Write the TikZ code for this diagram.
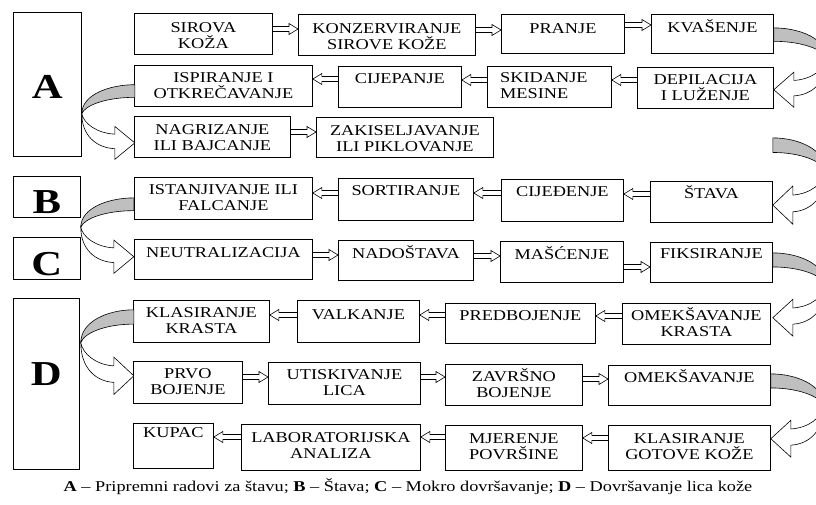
\documentclass[tikz,border=0pt]{standalone}
\usepackage{fontspec}
\setmainfont{Liberation Serif}[FakeStretch=1.22]
\usetikzlibrary{calc}
\tikzset{
  bx/.style={draw, line width=0.8pt, inner sep=0pt, anchor=north west},
  bxt/.style={anchor=north, inner sep=0pt, align=center, font=\fontsize{15}{16}\selectfont},
  ltr/.style={anchor=base, inner sep=0pt, font=\fontsize{35}{35}\selectfont\bfseries},
  harr/.style={line width=0.6pt, draw=black, line join=miter},
  turnline/.style={line width=0.6pt, draw=black},
  turn/.pic={
    \filldraw[turnline, fill=gray!50] (53,-30) .. controls (28,-30) and (0,-20) .. (0,0)
      .. controls (3,-9) and (25,-17) .. (53,-17) -- cycle;
    \filldraw[turnline, fill=white] (0,0) .. controls (2,10) and (15,20) .. (33,21)
      -- (33,13) -- (53,30) -- (33,47) -- (33,36)
      .. controls (14,35) and (0,22) .. (0,0) -- cycle;
  }
}
\newcommand\bx[7][18]{%
  \node[bx, minimum width={(#5-#3)*1pt}, minimum height={(#6-#4)*1pt}] (#2) at (#3,#4) {};
  \node[bxt] (#2-t) at ([yshift={(14-#1)*1pt}]#2.north) {\rule{0pt}{14pt}#7};
}
% hollow block arrows from box #1 to box #2, #3 px below the top of box #1
\newcommand\rarr[3]{\draw[harr] let \p1=([yshift=-#3pt]#1.north east),
  \p2=([yshift=-#3pt]#1.north east -| #2.west) in
  (\x1,\y1+2.5pt) -- (\x2-9pt,\y1+2.5pt) -- (\x2-9pt,\y1+5.5pt) -- (\x2,\y1)
  -- (\x2-9pt,\y1-5.5pt) -- (\x2-9pt,\y1-2.5pt) -- (\x1,\y1-2.5pt);}
\newcommand\larr[3]{\draw[harr] let \p1=([yshift=-#3pt]#1.north west),
  \p2=([yshift=-#3pt]#1.north west -| #2.east) in
  (\x1,\y1+2.5pt) -- (\x2+9pt,\y1+2.5pt) -- (\x2+9pt,\y1+5.5pt) -- (\x2,\y1)
  -- (\x2+9pt,\y1-5.5pt) -- (\x2+9pt,\y1-2.5pt) -- (\x1,\y1-2.5pt);}
\begin{document}
\begin{tikzpicture}[x=1pt,y=-1pt]
\useasboundingbox (0,0) rectangle (816,504);
\clip (0,0) rectangle (816,504);
\fill[white] (0,0) rectangle (816,504);

% letter boxes
\node[bx, minimum width=68pt, minimum height=144pt] (A) at (13,12) {};
\node[ltr] (A-t) at ([yshift=-86pt]A.north) {A};
\node[bx, minimum width=67pt, minimum height=41pt] (B) at (13,176) {};
\node[ltr] (B-t) at ([yshift=-37pt]B.north) {B};
\node[bx, minimum width=67pt, minimum height=42pt] (C) at (13,237) {};
\node[ltr] (C-t) at ([yshift=-38pt]C.north) {C};
\node[bx, minimum width=66pt, minimum height=171pt] (D) at (13,298) {};
\node[ltr] (D-t) at ([yshift=-87pt]D.north) {D};

% row 1
\bx[19]{r1a}{134}{13}{272}{54}{SIROVA\\KOŽA}
\bx[19]{r1b}{298}{14}{475}{55}{KONZERVIRANJE\\SIROVE KOŽE}
\bx[19]{r1c}{501}{14}{624}{53}{PRANJE}
\bx[18]{r1d}{651}{14}{773}{53}{KVAŠENJE}
% row 2
\bx[17]{r2a}{134}{65}{312}{106}{ISPIRANJE I\\OTKREČAVANJE}
\bx[17]{r2b}{338}{66}{461}{107}{CIJEPANJE}
\node[bx, minimum width=124pt, minimum height=41pt] (r2c) at (487,66) {};
\node[bxt, align=left, anchor=north west] (r2c-t) at ([xshift=13pt,yshift=-2pt]r2c.north west) {\rule{0pt}{14pt}SKIDANJE\\MESINE};
\bx[17]{r2d}{637}{67}{773}{108}{DEPILACIJA\\I LUŽENJE}
% row 3
\bx[18]{r3a}{134}{116}{290}{157}{NAGRIZANJE\\ILI BAJCANJE}
\bx[18]{r3b}{316}{117}{493}{157}{ZAKISELJAVANJE\\ILI PIKLOVANJE}
% row 4
\bx[17]{r4a}{134}{177}{312}{219}{ISTANJIVANJE ILI\\FALCANJE}
\bx[17]{r4b}{338}{178}{473}{220}{SORTIRANJE}
\bx[17]{r4c}{501}{179}{623}{221}{CIJEĐENJE}
\bx[17]{r4d}{650}{181}{772}{222}{ŠTAVA}
% row 5
\bx[18]{r5a}{134}{239}{312}{279}{NEUTRALIZACIJA}
\bx[18]{r5b}{338}{240}{473}{280}{NADOŠTAVA}
\bx[18]{r5c}{500}{241}{623}{282}{MAŠĆENJE}
\bx[16]{r5d}{650}{242}{772}{282}{FIKSIRANJE}
% row 6
\bx[17]{r6a}{133}{300}{269}{342}{KLASIRANJE\\KRASTA}
\bx[19]{r6b}{297}{300}{419}{342}{VALKANJE}
\bx[17]{r6c}{445}{303}{595}{343}{PREDBOJENJE}
\bx[17]{r6d}{622}{303}{770}{344}{OMEKŠAVANJE\\KRASTA}
% row 7
\bx[17]{r7a}{133}{361}{242}{403}{PRVO\\BOJENJE}
\bx[17]{r7b}{268}{362}{420}{404}{UTISKIVANJE\\LICA}
\bx[17]{r7c}{445}{364}{582}{405}{ZAVRŠNO\\BOJENJE}
\bx[17]{r7d}{608}{365}{770}{405}{OMEKŠAVANJE}
% row 8
\bx[14]{r8a}{133}{423}{213}{468}{KUPAC}
\bx[18]{r8b}{241}{424}{420}{470}{LABORATORIJSKA\\ANALIZA}
\bx[18]{r8c}{445}{425}{582}{470}{MJERENJE\\POVRŠINE}
\bx[18]{r8d}{608}{425}{770}{470}{KLASIRANJE\\GOTOVE KOŽE}

% straight hollow arrows
\rarr{r1a}{r1b}{16}
\rarr{r1b}{r1c}{16}
\rarr{r1c}{r1d}{11}
\larr{r2b}{r2a}{13}
\larr{r2c}{r2b}{14}
\larr{r2d}{r2c}{13}
\rarr{r3a}{r3b}{16}
\larr{r4b}{r4a}{15}
\larr{r4c}{r4b}{14}
\larr{r4d}{r4c}{13}
\rarr{r5a}{r5b}{16}
\rarr{r5b}{r5c}{16}
\rarr{r5c}{r5d}{26}
\larr{r6b}{r6a}{15}
\larr{r6c}{r6b}{12}
\larr{r6d}{r6c}{13}
\rarr{r7a}{r7b}{16}
\rarr{r7b}{r7c}{15}
\rarr{r7c}{r7d}{15}
\larr{r8b}{r8a}{13}
\larr{r8c}{r8b}{12}
\larr{r8d}{r8c}{13}

% curved turning arrows
\coordinate (tl1) at ([yshift=-7pt]r2a.south -| A.east);
\coordinate (tl2) at ([yshift=-7.5pt]r4a.south -| B.east);
\coordinate (tl3) at ([xshift=1pt]r6a.south -| D.east);
\coordinate (tr1) at ([xshift=53pt,yshift=-5pt]r1d.south east);
\coordinate (tr2) at ([xshift=53pt,yshift=9.5pt]r4d.north east);
\coordinate (tr3) at ([xshift=53pt,yshift=-2.5pt]r5d.south east);
\coordinate (tr4) at ([xshift=53pt,yshift=-0.5pt]r7d.south east);
\pic[yscale=0.97] at (tl1) {turn};
\pic[yscale=0.98] at (tl2) {turn};
\pic[yscale=1.1] at (tl3) {turn};
\pic[xscale=-1, yscale=1.03] at (tr1) {turn};
\pic[xscale=-1, yscale=1.12] at (tr2) {turn};
\pic[xscale=-1, yscale=1.08] at (tr3) {turn};
\pic[xscale=-1, yscale=1.08] at (tr4) {turn};

% caption
\node[anchor=base, inner sep=0pt, font=\fontsize{15}{15}\selectfont] (cap) at (408,491)
  {\textbf{A} – Pripremni radovi za štavu; \textbf{B} – Štava; \textbf{C} – Mokro dovršavanje; \textbf{D} – Dovršavanje lica kože};
\end{tikzpicture}
\end{document}
